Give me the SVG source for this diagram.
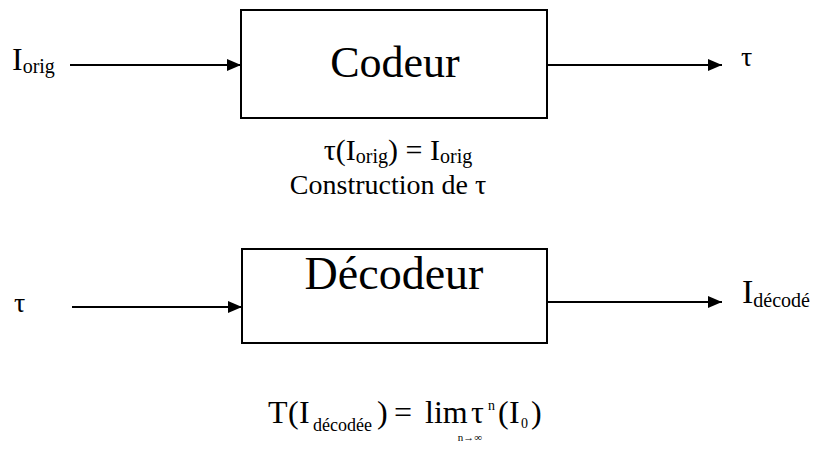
<svg xmlns="http://www.w3.org/2000/svg" width="817" height="451" viewBox="0 0 817 451">
<defs>
<style>
.t{font-family:"Liberation Serif","Times New Roman","DejaVu Serif",serif;fill:#000}
.box{fill:#fff;stroke:#000;stroke-width:2}
.ln{stroke:#000;stroke-width:2;fill:none}
</style>
<marker id="ah" viewBox="0 0 14 12" refX="14" refY="6" markerWidth="7" markerHeight="6" markerUnits="strokeWidth" orient="auto">
<path d="M0,0 L14,6 L0,12 z" fill="#000"/>
</marker>
</defs>
<rect width="817" height="451" fill="#fff"/>
<g id="connectors">
<line class="ln" x1="70" y1="65" x2="241" y2="65" marker-end="url(#ah)"/>
<line class="ln" x1="547" y1="65" x2="722" y2="65" marker-end="url(#ah)"/>
<line class="ln" x1="72" y1="307" x2="242" y2="307" marker-end="url(#ah)"/>
<line class="ln" x1="547" y1="302" x2="722" y2="302" marker-end="url(#ah)"/>
</g>
<g id="codeur">
<rect class="box" x="241" y="10" width="306" height="108"/>
<text class="t" x="395" y="77" font-size="44" text-anchor="middle">Codeur</text>
</g>
<g id="decodeur">
<rect class="box" x="242" y="249" width="305" height="94"/>
<text class="t" x="394" y="289" font-size="46" text-anchor="middle">Décodeur</text>
</g>
<g id="labels">
<text class="t" x="12" y="70" font-size="32">I<tspan font-size="20" dy="3">orig</tspan></text>
<text class="t" x="741" y="66" font-size="28">τ</text>
<text class="t" x="14" y="312" font-size="28">τ</text>
<text class="t" x="742" y="303" font-size="34">I<tspan font-size="20" dy="4">décodé</tspan></text>
<text class="t" x="398" y="160" font-size="30" text-anchor="middle">τ(I<tspan font-size="20" dy="3">orig</tspan><tspan dy="-3">) = I</tspan><tspan font-size="20" dy="3">orig</tspan></text>
<text class="t" x="388" y="194" font-size="28" text-anchor="middle">Construction de τ</text>
<text class="t" y="423" font-size="32"><tspan x="268">T</tspan><tspan x="288">(</tspan><tspan x="299">I</tspan><tspan x="313" font-size="18" dy="8">décodée</tspan><tspan x="377" dy="-8">)</tspan><tspan x="394">=</tspan><tspan x="425">lim</tspan><tspan x="471">τ</tspan><tspan x="488" font-size="14" dy="-13">n</tspan><tspan x="498" dy="13">(</tspan><tspan x="509">I</tspan><tspan x="521" font-size="14" dy="5">0</tspan><tspan x="531" dy="-5">)</tspan></text>
<text class="t" x="470" y="441" font-size="11" text-anchor="middle">n→∞</text>
</g>
</svg>
